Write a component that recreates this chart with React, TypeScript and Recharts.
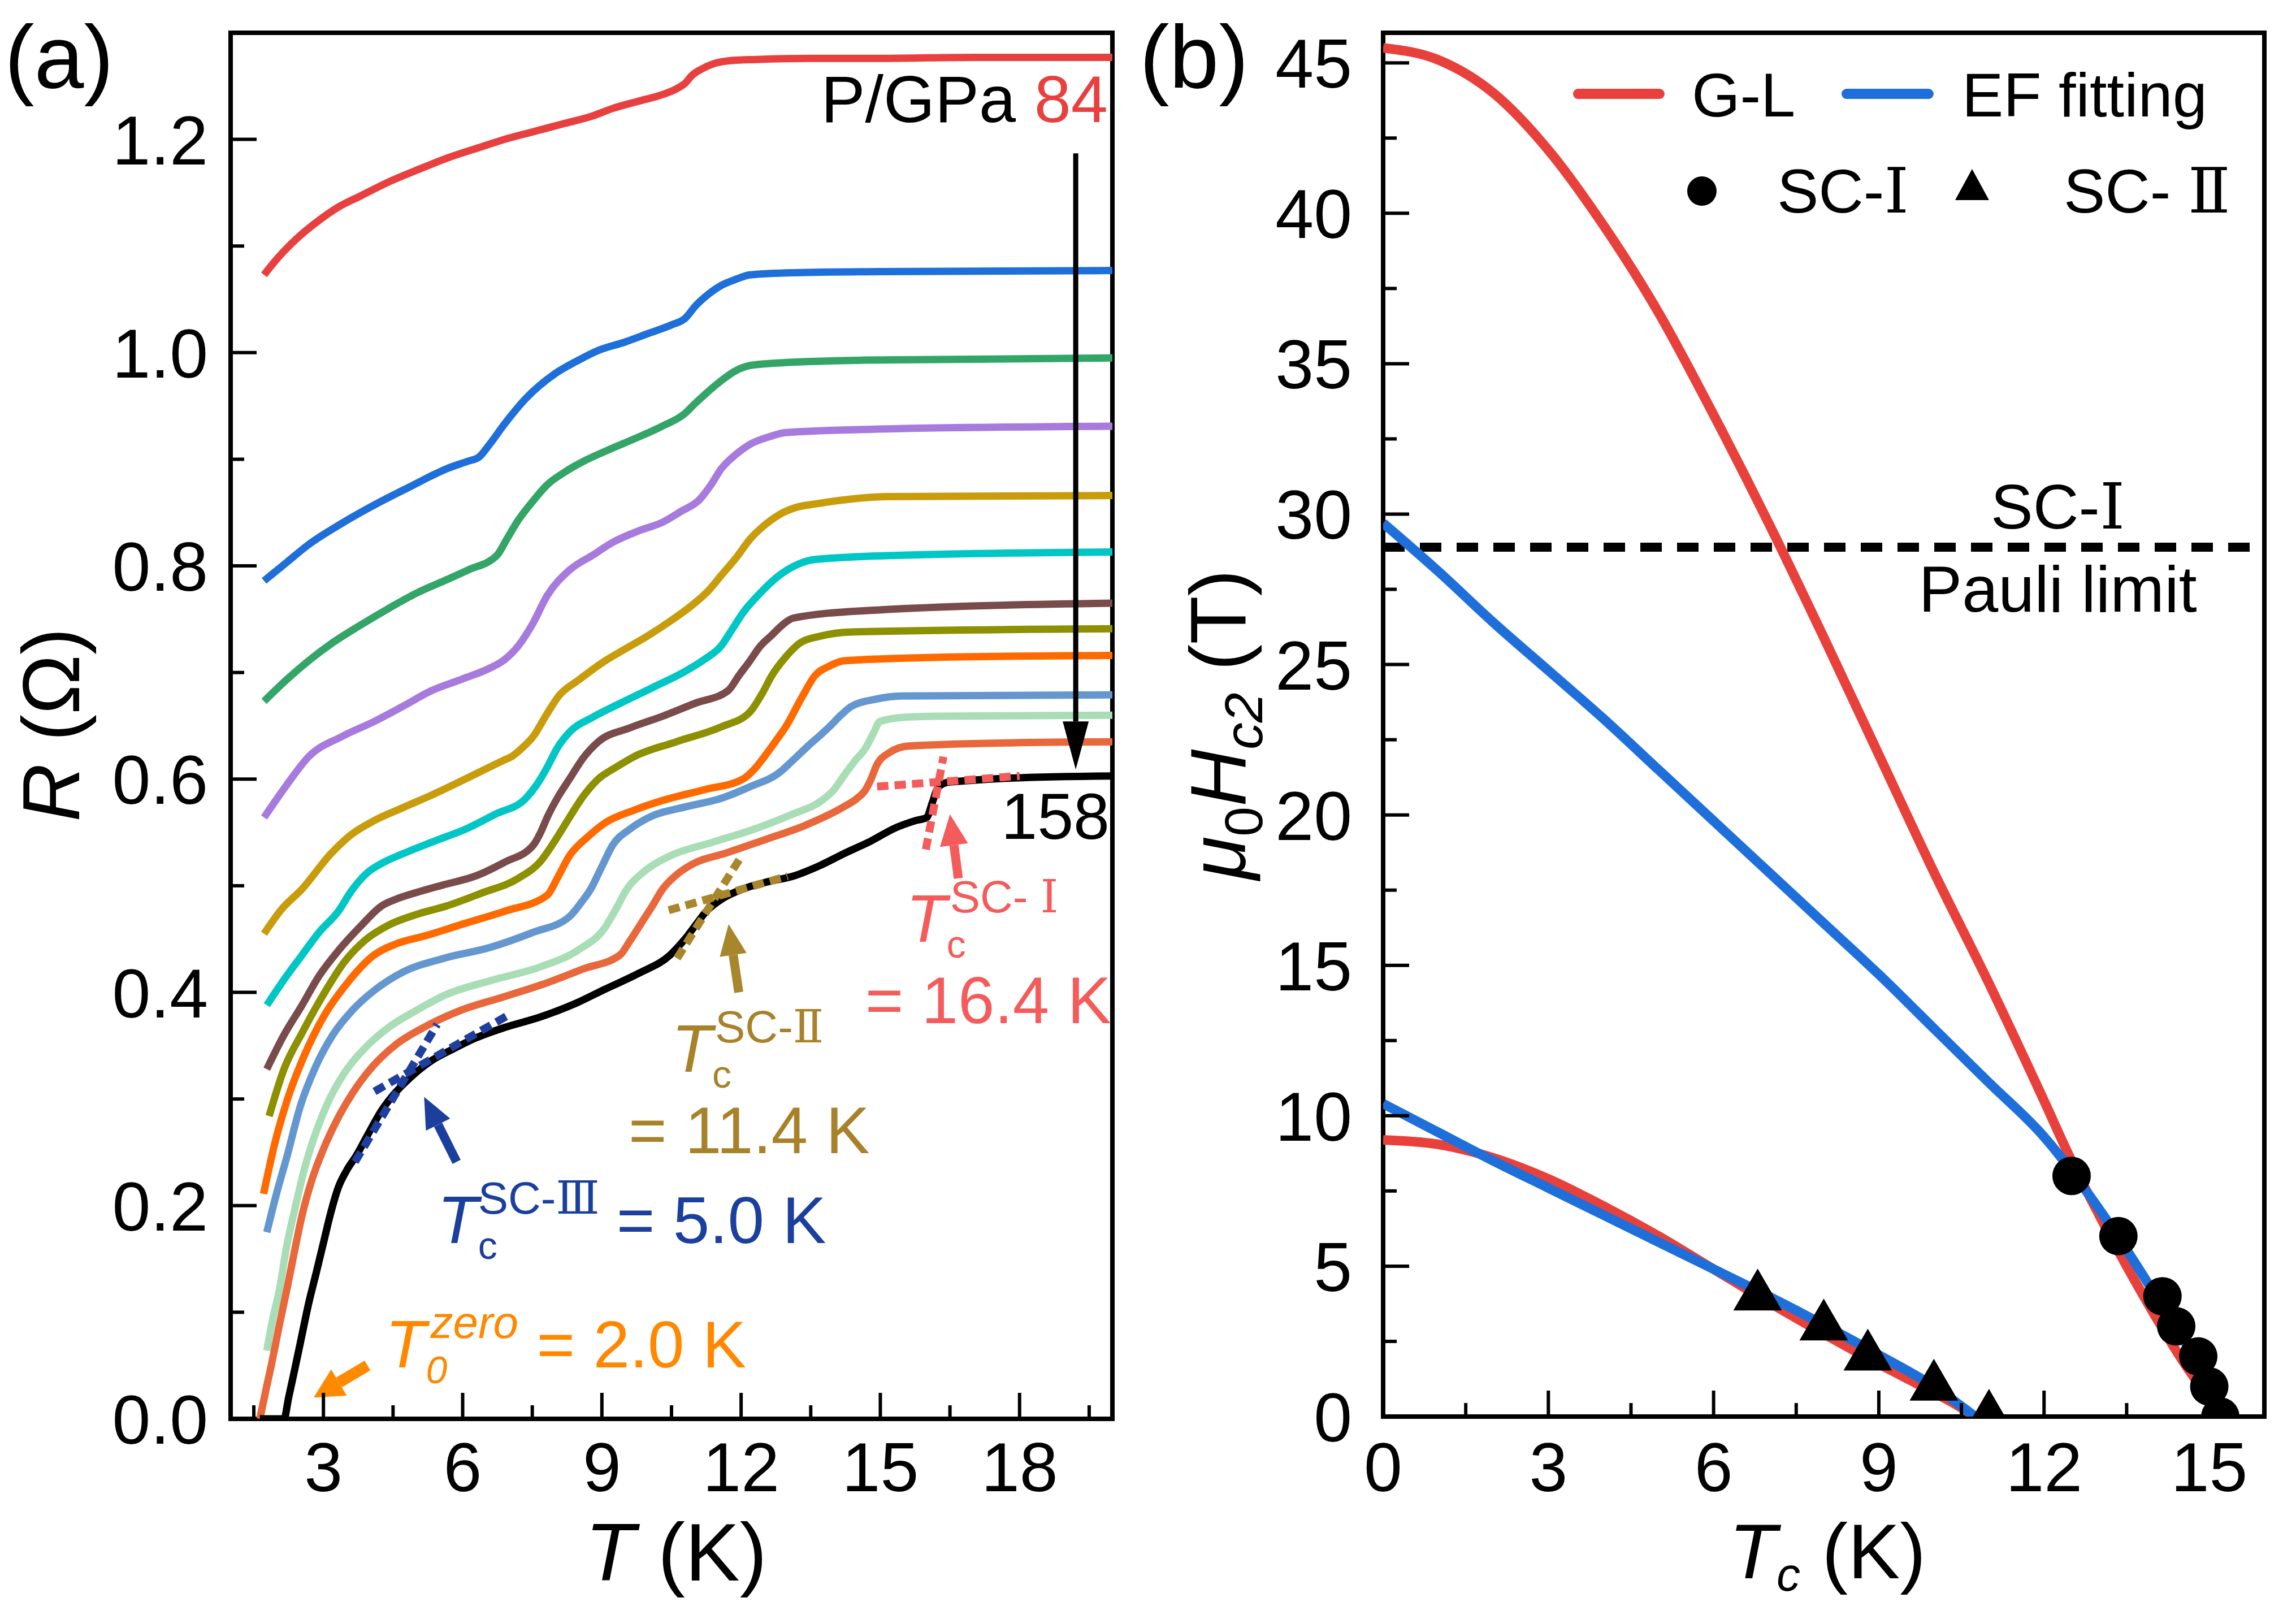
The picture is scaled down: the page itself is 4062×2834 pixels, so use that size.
import React from 'react';
import {
  ComposedChart,
  Line,
  Scatter,
  XAxis,
  YAxis,
  ReferenceArea,
  ReferenceLine,
  ReferenceDot,
} from 'recharts';

const FONT = '"Liberation Sans", Arial, Helvetica, sans-serif';
const SERIF = '"DejaVu Serif", "Liberation Serif", serif';

// ---------- panel (a): R(T) at pressures 84 ... 158 GPa ----------
const r84: number[][] = [[1.72, 1.073], [2.0, 1.088], [2.4, 1.106], [2.84, 1.122], [3.3, 1.136], [3.8, 1.147], [4.4, 1.16], [5.0, 1.171], [5.7, 1.183], [6.4, 1.193], [6.9, 1.2], [7.5, 1.207], [8.2, 1.215], [8.8, 1.222], [9.23, 1.229], [9.8, 1.236], [10.3, 1.242], [10.63, 1.248], [10.8, 1.253], [10.94, 1.26], [11.15, 1.266], [11.41, 1.271], [11.8, 1.274], [12.34, 1.275], [13.5, 1.276], [15, 1.276], [17, 1.277], [20, 1.277]];
const rBlue: number[][] = [[1.72, 0.786], [2.2, 0.803], [2.68, 0.82], [3.4, 0.84], [4.09, 0.857], [4.9, 0.875], [5.65, 0.891], [6.1, 0.898], [6.35, 0.902], [6.58, 0.914], [6.9, 0.933], [7.36, 0.957], [7.98, 0.98], [8.5, 0.993], [8.92, 1.002], [9.5, 1.01], [10.0, 1.018], [10.5, 1.026], [10.79, 1.032], [11.02, 1.044], [11.3, 1.055], [11.57, 1.063], [11.9, 1.069], [12.19, 1.073], [13.12, 1.075], [15, 1.076], [20, 1.077]];
const rGreen: number[][] = [[1.72, 0.673], [2.2, 0.693], [2.68, 0.711], [3.2, 0.728], [3.78, 0.744], [4.4, 0.76], [5.03, 0.775], [5.6, 0.786], [6.11, 0.796], [6.74, 0.81], [6.95, 0.825], [7.2, 0.843], [7.5, 0.86], [7.82, 0.876], [8.2, 0.888], [8.6, 0.898], [9.1, 0.908], [9.69, 0.919], [10.3, 0.931], [10.79, 0.943], [11.0, 0.952], [11.25, 0.962], [11.55, 0.973], [11.88, 0.983], [12.2, 0.988], [12.66, 0.99], [14.68, 0.993], [20, 0.995]];
const rPurple: number[][] = [[1.72, 0.564], [2.2, 0.594], [2.68, 0.621], [3.4, 0.64], [4.09, 0.654], [4.7, 0.668], [5.33, 0.683], [6.0, 0.694], [6.58, 0.704], [6.9, 0.712], [7.2, 0.725], [7.5, 0.745], [7.82, 0.772], [8.3, 0.796], [8.8, 0.81], [9.23, 0.822], [9.8, 0.833], [10.31, 0.841], [10.7, 0.851], [11.1, 0.862], [11.35, 0.876], [11.57, 0.891], [11.9, 0.905], [12.19, 0.914], [12.6, 0.921], [12.96, 0.925], [14.68, 0.928], [20, 0.931]];
const rGold: number[][] = [[1.72, 0.455], [2.1, 0.478], [2.54, 0.497], [3.16, 0.53], [3.6, 0.548], [4.09, 0.561], [4.7, 0.573], [5.33, 0.585], [6.1, 0.601], [6.9, 0.618], [7.05, 0.621], [7.3, 0.63], [7.52, 0.64], [7.8, 0.66], [8.07, 0.678], [8.5, 0.693], [9.07, 0.711], [9.5, 0.722], [10.01, 0.735], [10.5, 0.749], [10.94, 0.763], [11.3, 0.777], [11.57, 0.791], [11.9, 0.808], [12.19, 0.825], [12.5, 0.838], [12.82, 0.848], [13.2, 0.855], [13.59, 0.858], [15.15, 0.865], [20, 0.866]];
const rCyan: number[][] = [[1.78, 0.388], [2.15, 0.412], [2.54, 0.435], [2.9, 0.456], [3.32, 0.476], [3.6, 0.495], [3.94, 0.512], [4.3, 0.522], [4.71, 0.53], [5.4, 0.542], [6.11, 0.554], [6.7, 0.567], [7.36, 0.582], [7.6, 0.595], [7.82, 0.611], [8.05, 0.63], [8.3, 0.644], [8.8, 0.658], [9.39, 0.671], [10.1, 0.686], [10.79, 0.701], [11.2, 0.712], [11.57, 0.725], [11.8, 0.74], [12.04, 0.756], [12.4, 0.774], [12.82, 0.791], [13.2, 0.801], [13.59, 0.806], [15.45, 0.81], [20, 0.813]];
const rBrown: number[][] = [[1.78, 0.328], [2.15, 0.36], [2.54, 0.388], [2.9, 0.415], [3.32, 0.439], [3.8, 0.462], [4.25, 0.481], [4.6, 0.488], [5.03, 0.494], [5.6, 0.501], [6.27, 0.509], [6.9, 0.522], [7.52, 0.538], [7.68, 0.55], [7.82, 0.564], [8.05, 0.583], [8.3, 0.6], [8.6, 0.62], [8.92, 0.635], [9.6, 0.648], [10.31, 0.659], [11.0, 0.671], [11.72, 0.683], [11.95, 0.697], [12.19, 0.711], [12.4, 0.724], [12.66, 0.735], [12.9, 0.745], [13.12, 0.751], [14.68, 0.758], [20, 0.765]];
const rOlive: number[][] = [[1.83, 0.284], [2.15, 0.328], [2.54, 0.362], [3.0, 0.398], [3.46, 0.429], [3.9, 0.449], [4.4, 0.463], [5.0, 0.473], [5.65, 0.481], [6.4, 0.493], [7.2, 0.507], [7.68, 0.523], [8.0, 0.543], [8.3, 0.564], [8.6, 0.584], [8.92, 0.6], [9.3, 0.611], [9.69, 0.621], [10.6, 0.635], [11.57, 0.649], [12.19, 0.663], [12.45, 0.68], [12.66, 0.697], [12.95, 0.714], [13.28, 0.728], [13.7, 0.734], [14.37, 0.738], [20, 0.741]];
const rOrange: number[][] = [[1.71, 0.211], [1.95, 0.258], [2.22, 0.299], [2.6, 0.342], [3.0, 0.377], [3.5, 0.408], [4.09, 0.435], [4.6, 0.446], [5.19, 0.453], [6.0, 0.464], [6.9, 0.476], [7.82, 0.491], [8.05, 0.508], [8.3, 0.528], [8.7, 0.546], [9.07, 0.559], [9.7, 0.571], [10.31, 0.58], [11.2, 0.59], [12.04, 0.6], [12.3, 0.61], [12.5, 0.621], [12.75, 0.636], [12.96, 0.649], [13.3, 0.676], [13.59, 0.697], [13.9, 0.706], [14.21, 0.711], [16, 0.714], [20, 0.716]];
const rSteel: number[][] = [[1.78, 0.175], [2.0, 0.213], [2.22, 0.247], [2.5, 0.293], [2.84, 0.331], [3.2, 0.36], [3.62, 0.383], [4.1, 0.402], [4.71, 0.419], [5.6, 0.432], [6.58, 0.442], [7.5, 0.456], [8.3, 0.471], [8.55, 0.484], [8.76, 0.497], [9.0, 0.518], [9.23, 0.538], [9.6, 0.553], [10.01, 0.564], [10.8, 0.574], [11.57, 0.582], [12.2, 0.593], [12.82, 0.606], [13.1, 0.617], [13.44, 0.631], [13.7, 0.641], [13.9, 0.649], [14.15, 0.66], [14.37, 0.668], [14.9, 0.675], [15.45, 0.678], [20, 0.679]];
const rMint: number[][] = [[1.78, 0.064], [1.9, 0.092], [2.06, 0.123], [2.2, 0.16], [2.38, 0.196], [2.6, 0.236], [2.84, 0.269], [3.1, 0.297], [3.46, 0.325], [3.9, 0.348], [4.4, 0.367], [5.0, 0.383], [5.65, 0.398], [6.6, 0.411], [7.68, 0.424], [8.5, 0.44], [9.07, 0.461], [9.3, 0.478], [9.54, 0.497], [9.9, 0.513], [10.47, 0.528], [11.4, 0.541], [12.34, 0.554], [13.1, 0.567], [13.74, 0.58], [14.0, 0.59], [14.21, 0.603], [14.45, 0.617], [14.68, 0.629], [14.85, 0.643], [14.99, 0.654], [15.5, 0.658], [16.24, 0.659], [20, 0.66]];
const rCoral: number[][] = [[1.63, 0.0], [1.75, 0.025], [1.88, 0.051], [2.05, 0.088], [2.22, 0.123], [2.38, 0.158], [2.54, 0.191], [2.75, 0.224], [3.0, 0.253], [3.3, 0.281], [3.62, 0.305], [4.05, 0.33], [4.56, 0.351], [5.2, 0.368], [5.95, 0.383], [6.9, 0.396], [7.82, 0.409], [8.6, 0.422], [9.39, 0.435], [9.6, 0.448], [9.85, 0.465], [10.1, 0.482], [10.31, 0.497], [10.6, 0.51], [10.94, 0.52], [11.7, 0.531], [12.5, 0.543], [13.4, 0.557], [14.21, 0.574], [14.5, 0.582], [14.68, 0.59], [14.8, 0.6], [14.92, 0.613], [15.2, 0.625], [15.61, 0.631], [17.8, 0.634], [20, 0.635]];
const r158: number[][] = [[1.63, 0.0], [2.15, 0.0], [2.25, 0.02], [2.38, 0.046], [2.52, 0.075], [2.68, 0.108], [2.85, 0.138], [3.0, 0.165], [3.15, 0.192], [3.32, 0.217], [3.5, 0.233], [3.71, 0.247], [3.95, 0.266], [4.25, 0.289], [4.55, 0.306], [4.87, 0.32], [5.33, 0.336], [5.8, 0.347], [6.27, 0.357], [6.9, 0.367], [7.68, 0.377], [8.4, 0.389], [9.07, 0.403], [9.8, 0.418], [10.47, 0.435], [10.65, 0.443], [10.79, 0.45], [11.0, 0.462], [11.25, 0.476], [11.6, 0.488], [12.04, 0.497], [12.6, 0.504], [13.12, 0.509], [13.7, 0.519], [14.21, 0.53], [14.8, 0.542], [15.31, 0.554], [15.75, 0.561], [16.0, 0.564], [16.12, 0.578], [16.24, 0.592], [16.45, 0.597], [16.71, 0.598], [17.8, 0.601], [20, 0.603]];

// tangent constructions for the three transitions
const fitSC1Flat = [[14.93, 0.593], [18.0, 0.603]];
const fitSC1Drop = [[15.98, 0.534], [16.36, 0.621]];
const fitSC2Flat = [[10.44, 0.477], [13.0, 0.509]];
const fitSC2Drop = [[10.62, 0.432], [12.01, 0.528]];
const fitSC3Flat = [[4.1, 0.307], [7.04, 0.38]];
const fitSC3Drop = [[3.68, 0.241], [5.45, 0.37]];

const curvesA = [
  { name: '84', pts: r84, color: '#E8403F' },
  { name: 'b', pts: rBlue, color: '#1E6FD9' },
  { name: 'g', pts: rGreen, color: '#33A567' },
  { name: 'p', pts: rPurple, color: '#A77BDE' },
  { name: 'au', pts: rGold, color: '#C99C0C' },
  { name: 'cy', pts: rCyan, color: '#00C6C6' },
  { name: 'br', pts: rBrown, color: '#7A4B4B' },
  { name: 'ol', pts: rOlive, color: '#8D9000' },
  { name: 'or', pts: rOrange, color: '#FF6A00' },
  { name: 'st', pts: rSteel, color: '#6497CF' },
  { name: 'mi', pts: rMint, color: '#A8DDB6' },
  { name: 'co', pts: rCoral, color: '#E8673B' },
  { name: '158', pts: r158, color: '#000000' },
];

const xTicksA = [1.5, 3, 4.5, 6, 7.5, 9, 10.5, 12, 13.5, 15, 16.5, 18, 19.5];
const xMajorA = [3, 6, 9, 12, 15, 18];
const yTicksA = [0, 0.1, 0.2, 0.3, 0.4, 0.5, 0.6, 0.7, 0.8, 0.9, 1.0, 1.1, 1.2];
const yMajorA = [0, 0.2, 0.4, 0.6, 0.8, 1.0, 1.2];

// ---------- panel (b): upper critical field ----------
const glUpperT = [0, 1, 2, 3, 4, 5, 6, 7, 8, 9, 10, 11, 12, 12.5, 13, 13.5, 14, 14.5, 15, 15.25];
const glUpperH = [45.5, 45.1, 44.0, 42.1, 39.6, 36.7, 33.3, 29.7, 25.9, 22.0, 18.1, 14.4, 10.5, 8.5, 6.7, 5.0, 3.4, 1.9, 0.6, 0];
const efUpperT = [0, 1, 2, 3, 4, 5, 6, 7, 8, 9, 10, 11, 12, 13, 14, 15, 15.25];
const efUpperH = [29.7, 28.1, 26.4, 24.8, 23.2, 21.5, 19.8, 18.1, 16.4, 14.7, 12.9, 11.1, 9.3, 6.9, 4.1, 1.0, 0];
const glLowerT = [0, 1, 2, 3, 4, 5, 6, 7, 8, 9, 10, 10.4, 10.75];
const glLowerH = [9.2, 9.05, 8.6, 7.9, 7.0, 6.0, 4.9, 3.8, 2.75, 1.75, 0.8, 0.4, 0];
const efLowerT = [0, 1, 2, 3, 4, 5, 6, 7, 8, 9, 10, 10.75];
const efLowerH = [10.4, 9.45, 8.5, 7.6, 6.7, 5.8, 4.9, 4.0, 3.05, 2.05, 1.0, 0];
const sc1T = [12.5, 13.35, 14.15, 14.4, 14.8, 15.0, 15.2];
const sc1H = [8, 6, 4, 3, 2, 1, 0];
const sc2T = [6.8, 8.0, 8.8, 10.0, 11.0];
const sc2H = [4, 3, 2, 1, 0];
const pauliLimit = 28.9;

const xTicksB = [0, 1.5, 3, 4.5, 6, 7.5, 9, 10.5, 12, 13.5, 15];
const xMajorB = [0, 3, 6, 9, 12, 15];
const yTicksB = [0, 2.5, 5, 7.5, 10, 12.5, 15, 17.5, 20, 22.5, 25, 27.5, 30, 32.5, 35, 37.5, 40, 42.5, 45];
const yMajorB = [0, 5, 10, 15, 20, 25, 30, 35, 40, 45];

const pairs = (arr: number[][]) => arr.map(([x, y]) => ({ x, y }));
const zipXY = (xs: number[], ys: number[]) => xs.map((x, i) => ({ x, y: ys[i] }));

const H_ALL = 2834;
const AXIS_BOX = 100; // room given to each axis inside the margins
const A_W = 2000;
const A_M = { top: 58, right: 32, bottom: 324 - AXIS_BOX, left: 408 - AXIS_BOX };
const B_X = 2000;
const B_W = 2062;
const B_M = { top: 58, right: 56, bottom: 328 - AXIS_BOX, left: 447 - AXIS_BOX };

function makeTick(side: 'bottom' | 'left', majors: number[], gap: number, fmt: (v: number) => string) {
  return (props: any) => {
    const { x, y, payload } = props;
    const v = payload.value;
    const isMajor = majors.some((m) => Math.abs(m - v) < 1e-9);
    const len = isMajor ? 46 : 24;
    if (side === 'bottom') {
      return (
        <g>
          <line x1={x} x2={x} y1={y} y2={y - len} stroke="#000" strokeWidth={6} />
          {isMajor && (
            <text x={x} y={y + gap} textAnchor="middle" fontSize={122} fontFamily={FONT} fill="#000">
              {fmt(v)}
            </text>
          )}
        </g>
      );
    }
    return (
      <g>
        <line x1={x} x2={x + len} y1={y} y2={y} stroke="#000" strokeWidth={6} />
        {isMajor && (
          <text x={x - gap} y={y + 44} textAnchor="end" fontSize={122} fontFamily={FONT} fill="#000">
            {fmt(v)}
          </text>
        )}
      </g>
    );
  };
}

const arrowShape = (color: string, w: number, headLen: number, headW: number) => (p: any) => {
  const { x1, y1, x2, y2 } = p;
  const L = Math.hypot(x2 - x1, y2 - y1) || 1;
  const ux = (x2 - x1) / L;
  const uy = (y2 - y1) / L;
  const bx = x2 - ux * headLen;
  const by = y2 - uy * headLen;
  const nx = -uy * headW / 2;
  const ny = ux * headW / 2;
  return (
    <g>
      <line x1={x1} y1={y1} x2={bx} y2={by} stroke={color} strokeWidth={w} />
      <polygon points={`${x2},${y2} ${bx + nx},${by + ny} ${bx - nx},${by - ny}`} fill={color} />
    </g>
  );
};

const numeral = (s: string) => <tspan fontFamily={SERIF}>{s}</tspan>;

// T with stacked super/subscript, written as one text run
function tcLabel(color: string, supA: string, supB: string, sub: string, value: string,
  supOff: number[], subOff: number[], valOff: number[], italicSmall = false) {
  return (p: any) => {
    const { cx, cy } = p;
    const st = italicSmall ? 'italic' : 'normal';
    return (
      <g fill={color} fontFamily={FONT}>
        <text x={cx} y={cy} fontSize={118}>
          <tspan fontStyle="italic">T</tspan>
          <tspan x={cx + supOff[0]} y={cy + supOff[1]} fontSize={80} fontStyle={st}>{supA}</tspan>
          {supB && <tspan fontSize={80} fontFamily={SERIF}>{supB}</tspan>}
          <tspan x={cx + subOff[0]} y={cy + subOff[1]} fontSize={68} fontStyle={st}>{sub}</tspan>
          {valOff[1] === 0 && <tspan x={cx + valOff[0]} y={cy} fontSize={116}>{value}</tspan>}
        </text>
        {valOff[1] !== 0 && (
          <text x={cx + valOff[0]} y={cy + valOff[1]} fontSize={116}>{value}</text>
        )}
      </g>
    );
  };
}

function PanelA() {
  const fmt = (v: number) => v.toFixed(1);
  return (
    <ComposedChart width={A_W} height={H_ALL} margin={A_M}>
      <XAxis
        type="number"
        dataKey="x"
        domain={[1, 20]}
        allowDataOverflow
        ticks={xTicksA}
        interval={0}
        height={AXIS_BOX}
        tickSize={0}
        tickMargin={0}
        tickLine={false}
        axisLine={false}
        tick={makeTick('bottom', xMajorA, 128, (v) => String(v))}
        label={{
          content: () => (
            <text x={1196} y={2796} textAnchor="middle" fontSize={145} fontFamily={FONT} fill="#000">
              <tspan fontStyle="italic">T</tspan> (K)
            </text>
          ),
        }}
      />
      <YAxis
        type="number"
        dataKey="y"
        domain={[0, 1.3]}
        allowDataOverflow
        ticks={yTicksA}
        interval={0}
        width={AXIS_BOX}
        tickSize={0}
        tickMargin={0}
        tickLine={false}
        axisLine={false}
        tick={makeTick('left', yMajorA, 40, fmt)}
        label={{
          content: () => (
            <g fontFamily={FONT} fill="#000">
              <text x={140} y={1282} transform="rotate(-90 140 1282)" textAnchor="middle" fontSize={142}>
                <tspan fontStyle="italic">R</tspan> (Ω)
              </text>
              <text x={8} y={155} fontSize={158}>(a)</text>
            </g>
          ),
        }}
      />
      <ReferenceArea x1={1} x2={20} y1={0} y2={1.3} fill="none" stroke="#000" strokeWidth={8} />
      {curvesA.map((c) => (
        <Line
          key={c.name}
          data={pairs(c.pts)}
          dataKey="y"
          type="monotone"
          stroke={c.color}
          strokeWidth={13}
          dot={false}
          activeDot={false}
          isAnimationActive={false}
        />
      ))}
      {[
        { d: fitSC1Flat, c: '#F45B5B' },
        { d: fitSC1Drop, c: '#F45B5B' },
        { d: fitSC2Flat, c: '#A8862C' },
        { d: fitSC2Drop, c: '#A8862C' },
        { d: fitSC3Flat, c: '#1F3F9F' },
        { d: fitSC3Drop, c: '#1F3F9F' },
      ].map((f, i) => (
        <Line
          key={'fit' + i}
          data={pairs(f.d)}
          dataKey="y"
          type="linear"
          stroke={f.c}
          strokeWidth={14}
          strokeDasharray="20 11"
          dot={false}
          activeDot={false}
          isAnimationActive={false}
        />
      ))}
      <ReferenceLine segment={[{ x: 19.21, y: 1.187 }, { x: 19.21, y: 0.609 }]} shape={arrowShape('#000', 9, 85, 46)} />
      <ReferenceLine segment={[{ x: 16.68, y: 0.507 }, { x: 16.5, y: 0.567 }]} shape={arrowShape('#F45B5B', 16, 55, 50)} />
      <ReferenceLine segment={[{ x: 11.95, y: 0.4 }, { x: 11.73, y: 0.464 }]} shape={arrowShape('#A8862C', 16, 55, 48)} />
      <ReferenceLine segment={[{ x: 5.87, y: 0.241 }, { x: 5.17, y: 0.302 }]} shape={arrowShape('#1C3F9E', 16, 55, 48)} />
      <ReferenceLine segment={[{ x: 3.95, y: 0.05 }, { x: 2.79, y: 0.02 }]} shape={arrowShape('#FF8A00', 20, 52, 54)} />
      <ReferenceDot
        x={19.9}
        y={1.2162}
        shape={(p: any) => (
          <text x={p.cx} y={p.cy} textAnchor="end" fontSize={117} fontFamily={FONT} fill="#000">
            P/GPa <tspan fill="#E8403F">84</tspan>
          </text>
        )}
      />
      <ReferenceDot
        x={19.94}
        y={0.5437}
        shape={(p: any) => (
          <text x={p.cx} y={p.cy} textAnchor="end" fontSize={115} fontFamily={FONT} fill="#000">158</text>
        )}
      />
      <ReferenceDot x={15.55} y={0.4473}
        shape={tcLabel('#F45B5B', 'SC- ', 'Ⅰ', 'c', '= 16.4 K', [78, -52], [72, 28], [-72, 144])} />
      <ReferenceDot x={10.5} y={0.3254}
        shape={tcLabel('#A8822A', 'SC-', 'Ⅱ', 'c', '= 11.4 K', [77, -52], [72, 28], [-76, 144])} />
      <ReferenceDot x={5.454} y={0.1648}
        shape={tcLabel('#1B3F9C', 'SC-', 'Ⅲ', 'c', '= 5.0 K', [72, -52], [72, 28], [317, 0])} />
      <ReferenceDot x={4.33} y={0.0482}
        shape={tcLabel('#FF8800', 'zero', '', '0', '= 2.0 K', [80, -52], [72, 28], [268, 0], true)} />
    </ComposedChart>
  );
}

function legendB(p: any) {
  const { cx, cy } = p;
  return (
    <g fontFamily={FONT} fill="#000" fontSize={110}>
      <line x1={cx} x2={cx + 144} y1={cy} y2={cy} stroke="#E8413C" strokeWidth={18} strokeLinecap="round" />
      <text x={cx + 201} y={cy + 40}>G-L</text>
      <line x1={cx + 475} x2={cx + 620} y1={cy} y2={cy} stroke="#1E6FD9" strokeWidth={18} strokeLinecap="round" />
      <text x={cx + 679} y={cy + 40}>EF fitting</text>
      <circle cx={cx + 219} cy={cy + 172} r={26} fill="#000" />
      <text x={cx + 352} y={cy + 210}>SC-{numeral('Ⅰ')}</text>
      <polygon points={`${cx + 697},${cy + 133} ${cx + 727},${cy + 188} ${cx + 667},${cy + 188}`} fill="#000" />
      <text x={cx + 859} y={cy + 210}>SC- {numeral('Ⅱ')}</text>
    </g>
  );
}

function PanelB() {
  return (
    <ComposedChart width={B_W} height={H_ALL} margin={B_M}>
      <XAxis
        type="number"
        dataKey="x"
        domain={[0, 16]}
        allowDataOverflow
        ticks={xTicksB}
        interval={0}
        height={AXIS_BOX}
        tickSize={0}
        tickMargin={0}
        tickLine={false}
        axisLine={false}
        tick={makeTick('bottom', xMajorB, 132, (v) => String(v))}
        label={{
          content: () => (
            <text x={1233} y={2792} textAnchor="middle" fontSize={138} fontFamily={FONT} fill="#000">
              <tspan fontStyle="italic">T</tspan>
              <tspan fontStyle="italic" fontSize={84} dy={22}>c</tspan>
              <tspan dy={-22}> (K)</tspan>
            </text>
          ),
        }}
      />
      <YAxis
        type="number"
        dataKey="y"
        domain={[0, 46]}
        allowDataOverflow
        ticks={yTicksB}
        interval={0}
        width={AXIS_BOX}
        tickSize={0}
        tickMargin={0}
        tickLine={false}
        axisLine={false}
        tick={makeTick('left', yMajorB, 55, (v) => String(v))}
        label={{
          content: () => (
            <g fontFamily={FONT} fill="#000">
              <text x={203} y={1282} transform="rotate(-90 203 1282)" textAnchor="middle" fontSize={140}>
                <tspan fontStyle="italic">μ</tspan>
                <tspan fontSize={95} dy={30}>0</tspan>
                <tspan fontStyle="italic" dy={-30}>H</tspan>
                <tspan fontStyle="italic" fontSize={95} dy={30}>c2</tspan>
                <tspan dy={-30}> (T)</tspan>
              </text>
              <text x={16} y={155} fontSize={158}>(b)</text>
            </g>
          ),
        }}
      />
      <ReferenceArea x1={0} x2={16} y1={0} y2={46} fill="none" stroke="#000" strokeWidth={8} />
      <ReferenceLine y={pauliLimit} stroke="#000" strokeWidth={16} strokeDasharray="38 27" />
      <Line data={zipXY(glUpperT, glUpperH)} dataKey="y" type="monotone" stroke="#E8413C" strokeWidth={17}
        dot={false} activeDot={false} isAnimationActive={false} />
      <Line data={zipXY(glLowerT, glLowerH)} dataKey="y" type="monotone" stroke="#E8413C" strokeWidth={17}
        dot={false} activeDot={false} isAnimationActive={false} />
      <Line data={zipXY(efUpperT, efUpperH)} dataKey="y" type="monotone" stroke="#1E6FD9" strokeWidth={17}
        dot={false} activeDot={false} isAnimationActive={false} />
      <Line data={zipXY(efLowerT, efLowerH)} dataKey="y" type="monotone" stroke="#1E6FD9" strokeWidth={17}
        dot={false} activeDot={false} isAnimationActive={false} />
      <Scatter
        data={zipXY(sc1T, sc1H)}
        isAnimationActive={false}
        shape={(p: any) => <circle cx={p.cx} cy={p.cy} r={34} fill="#000" />}
      />
      <Scatter
        data={zipXY(sc2T, sc2H)}
        isAnimationActive={false}
        shape={(p: any) => (
          <polygon points={`${p.cx},${p.cy - 49} ${p.cx + 43},${p.cy + 25} ${p.cx - 43},${p.cy + 25}`} fill="#000" />
        )}
      />
      <ReferenceDot
        x={12.25}
        y={29.52}
        shape={(p: any) => (
          <text x={p.cx} y={p.cy} textAnchor="middle" fontSize={112} fontFamily={FONT} fill="#000">
            SC-{numeral('Ⅰ')}
          </text>
        )}
      />
      <ReferenceDot
        x={12.25}
        y={26.76}
        shape={(p: any) => (
          <text x={p.cx} y={p.cy} textAnchor="middle" fontSize={115} fontFamily={FONT} fill="#000">
            Pauli limit
          </text>
        )}
      />
      <ReferenceDot x={3.54} y={43.97} shape={legendB} />
    </ComposedChart>
  );
}

export default function App() {
  return (
    <div style={{ position: 'absolute', left: 0, top: 0, width: 4062, height: H_ALL, background: '#fff' }}>
      <div style={{ position: 'absolute', left: 0, top: 0 }}>
        <PanelA />
      </div>
      <div style={{ position: 'absolute', left: B_X, top: 0 }}>
        <PanelB />
      </div>
    </div>
  );
}
